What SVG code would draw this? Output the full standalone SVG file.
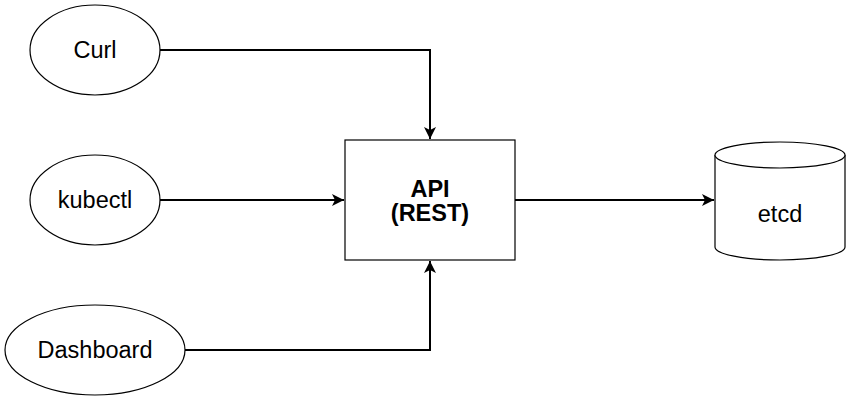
<svg xmlns="http://www.w3.org/2000/svg" width="851" height="401" viewBox="0 0 851 401">
<style>
.shape{fill:#fff;stroke:#000;stroke-width:1.2}
.lbl{font-family:"Liberation Sans",Arial,sans-serif;font-size:23.5px;fill:#000;text-anchor:middle}
.bold{font-weight:bold}
.edge{fill:none;stroke:#000;stroke-width:2}
</style>
<defs>
<marker id="arr" markerUnits="userSpaceOnUse" markerWidth="14" markerHeight="12" viewBox="0 0 14 12" refX="12" refY="6" orient="auto">
<path d="M0,0 L12,6 L0,12 L3,6 Z" fill="#000"/>
</marker>
</defs>
<rect width="851" height="401" fill="#fff"/>
<g id="edges">
<path class="edge" d="M160,50 H430 V139" marker-end="url(#arr)"/>
<path class="edge" d="M160,200 H344" marker-end="url(#arr)"/>
<path class="edge" d="M185,350 H430 V261" marker-end="url(#arr)"/>
<path class="edge" d="M515,200 H714" marker-end="url(#arr)"/>
</g>
<g id="curl">
<ellipse class="shape" cx="95" cy="50" rx="65" ry="45"/>
<text class="lbl" x="95" y="58.3">Curl</text>
</g>
<g id="kubectl">
<ellipse class="shape" cx="95" cy="200" rx="65" ry="45"/>
<text class="lbl" x="95" y="208.3">kubectl</text>
</g>
<g id="dashboard">
<ellipse class="shape" cx="95" cy="350" rx="90" ry="45"/>
<text class="lbl" x="95" y="358">Dashboard</text>
</g>
<g id="api">
<rect class="shape" x="345" y="140" width="170" height="120"/>
<text class="lbl bold" x="430" y="197">API</text>
<text class="lbl bold" x="430" y="221">(REST)</text>
</g>
<g id="etcd">
<path class="shape" d="M715,155 V247 A65,13 0 0 0 845,247 V155"/>
<ellipse class="shape" cx="780" cy="155" rx="65" ry="13"/>
<text class="lbl" x="780" y="221.7">etcd</text>
</g>
</svg>
